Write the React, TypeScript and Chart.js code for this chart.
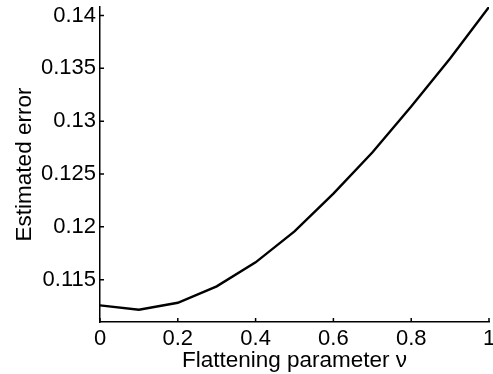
import React, { useEffect, useRef } from "react";
import { Chart, registerables } from "chart.js";

Chart.register(...registerables);

// Flattening parameter ν sampled on [0, 1]
const nuValues: number[] = [0, 0.1, 0.2, 0.3, 0.4, 0.5, 0.6, 0.7, 0.8, 0.9, 1.0];
// Estimated error for each ν
const errorValues: number[] = [
  0.11257, 0.11216, 0.11282, 0.11437, 0.11664, 0.11957, 0.12314, 0.12703, 0.13138, 0.13593, 0.1408,
];
const xTickValues: number[] = [0, 0.2, 0.4, 0.6, 0.8, 1];
const yTickValues: number[] = [0.115, 0.12, 0.125, 0.13, 0.135, 0.14];

const FONT = "'Liberation Sans', Arial, Helvetica, sans-serif";

// Short tick marks pointing into the plot area
const inwardTicks = {
  id: "inwardTicks",
  afterDraw(chart: any) {
    const { ctx, chartArea, scales } = chart;
    const len = 4;
    ctx.save();
    ctx.strokeStyle = "#000";
    ctx.lineWidth = 1.5;
    ctx.beginPath();
    for (const v of xTickValues) {
      const px = scales.x.getPixelForValue(v);
      ctx.moveTo(px, chartArea.bottom);
      ctx.lineTo(px, chartArea.bottom - len);
    }
    for (const v of yTickValues) {
      const py = scales.y.getPixelForValue(v);
      ctx.moveTo(chartArea.left, py);
      ctx.lineTo(chartArea.left + len, py);
    }
    ctx.stroke();
    ctx.restore();
  },
};

export default function App() {
  const canvasRef = useRef<HTMLCanvasElement | null>(null);

  useEffect(() => {
    if (!canvasRef.current) return;
    const chart = new Chart(canvasRef.current, {
      type: "line",
      data: {
        datasets: [
          {
            data: nuValues.map((x, i) => ({ x, y: errorValues[i] })),
            borderColor: "#000",
            borderWidth: 2.4,
            pointRadius: 0,
            tension: 0,
            fill: false,
          },
        ],
      },
      plugins: [inwardTicks],
      options: {
        responsive: false,
        animation: false,
        devicePixelRatio: 1,
        layout: { padding: { top: 7, right: 4, left: 0, bottom: 0 } },
        plugins: { legend: { display: false }, tooltip: { enabled: false } },
        scales: {
          x: {
            type: "linear",
            min: 0,
            max: 1,
            afterBuildTicks(scale: any) {
              scale.ticks = xTickValues.map((value) => ({ value }));
            },
            afterFit(scale: any) {
              scale.height = 52;
              scale.paddingLeft = 0;
              scale.paddingRight = 0;
            },
            grid: { display: true, drawOnChartArea: false, drawTicks: false },
            border: { display: true, color: "#000", width: 1.5 },
            ticks: {
              color: "#000",
              padding: 4,
              maxRotation: 0,
              autoSkip: false,
              font: { family: FONT, size: 22 },
              callback: (v: any) => String(+Number(v).toFixed(3)),
            },
            title: {
              display: true,
              text: "Flattening parameter ν",
              color: "#000",
              font: { family: FONT, size: 22.5, lineHeight: 1.2 },
              padding: { top: 0, bottom: 0 },
            },
          },
          y: {
            type: "linear",
            min: 0.111,
            max: 0.1408,
            afterBuildTicks(scale: any) {
              scale.ticks = yTickValues.map((value) => ({ value }));
            },
            afterFit(scale: any) {
              scale.width = 100;
              scale.paddingTop = 0;
              scale.paddingBottom = 0;
            },
            grid: { display: true, drawOnChartArea: false, drawTicks: false },
            border: { display: true, color: "#000", width: 1.5 },
            ticks: {
              color: "#000",
              padding: 4,
              autoSkip: false,
              font: { family: FONT, size: 22 },
              callback: (v: any) => String(+Number(v).toFixed(3)),
            },
            title: {
              display: true,
              text: "Estimated error",
              color: "#000",
              font: { family: FONT, size: 22.5, lineHeight: 1.2 },
              padding: { top: 11, bottom: 0 },
            },
          },
        },
      },
    });
    return () => chart.destroy();
  }, []);

  return (
    <div style={{ position: "absolute", left: 0, top: 0, width: 493, height: 374, background: "#fff" }}>
      <canvas ref={canvasRef} width={493} height={374} />
    </div>
  );
}
